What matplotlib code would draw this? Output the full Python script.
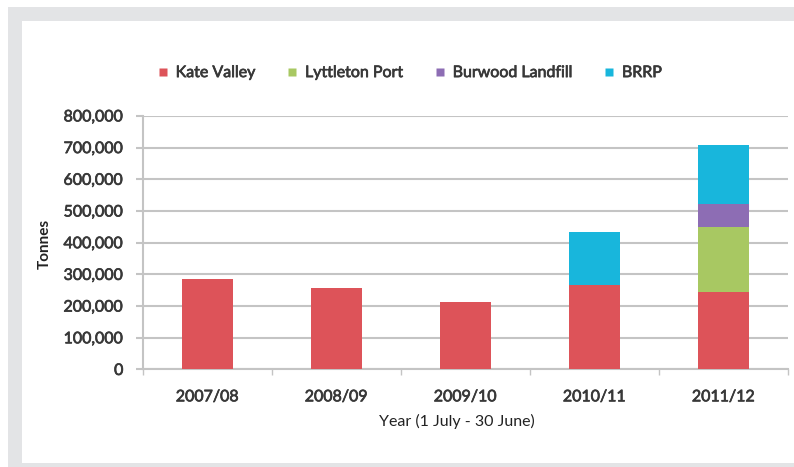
import matplotlib
matplotlib.use('Agg')
import matplotlib.pyplot as plt
import matplotlib.patheffects as pe
from matplotlib.lines import Line2D
from matplotlib.patches import Rectangle
from matplotlib.ticker import FuncFormatter, FixedLocator
import numpy as np

# Tonnes sent to each destination per year
years = ['2007/08', '2008/09', '2009/10', '2010/11', '2011/12']
kate_valley = [287000, 258000, 213000, 267000, 244000]
lyttleton_port = [0, 0, 0, 0, 205000]
burwood_landfill = [0, 0, 0, 0, 73000]
brrp = [0, 0, 0, 168000, 186000]

series = [
    ('Kate Valley', kate_valley, '#dd5359'),
    ('Lyttleton Port', lyttleton_port, '#a8c862'),
    ('Burwood Landfill', burwood_landfill, '#8d6db4'),
    ('BRRP', brrp, '#18b6dc'),
]

plt.rcParams['font.family'] = ['Lato', 'DejaVu Sans']
text_col = '#383838'
grid_col = '#c4c4c4'
# slightly heavier strokes for the label text
heavy = [pe.withStroke(linewidth=0.5, foreground=text_col)]

fig = plt.figure(figsize=(7.94, 4.67), dpi=100)

# grey frame around the panel
fig.patches.append(Rectangle((8 / 794, 0), 1, 1 - 7 / 467, transform=fig.transFigure,
                             facecolor='#e3e4e6', edgecolor='none', zorder=-2))
fig.patches.append(Rectangle((22 / 794, 4 / 467), 1, 1 - 25 / 467, transform=fig.transFigure,
                             facecolor='white', edgecolor='none', zorder=-1))

ax = fig.add_axes([0.180, 0.2088, 0.8124, 0.5430])
ax.set_facecolor('none')

x = np.arange(len(years))
bottom = np.zeros(len(years))
handles = []
for name, vals, col in series:
    vals = np.array(vals, dtype=float)
    ax.bar(x, vals, width=0.39, bottom=bottom, color=col, zorder=3)
    bottom += vals
    handles.append(Line2D([], [], marker='s', linestyle='none', markersize=6,
                          markerfacecolor=col, markeredgecolor='none', label=name))

ax.set_xlim(-0.5, len(years) - 0.5)
ax.set_ylim(0, 800000)
ax.set_yticks(np.arange(0, 800001, 100000))
ax.yaxis.set_major_formatter(FuncFormatter(lambda v, p: f'{int(v):,}'))
ax.grid(axis='y', color=grid_col, linewidth=1.5, zorder=0)

ax.set_xticks(x)
ax.set_xticklabels(years)
ax.xaxis.set_minor_locator(FixedLocator(np.arange(-0.5, len(years), 1.0)))
ax.tick_params(axis='x', which='major', length=0, pad=15)
ax.tick_params(axis='x', which='minor', length=4, color=grid_col, width=1)
ax.tick_params(axis='y', length=5, color=grid_col, width=1.5, pad=9)
for lab in ax.get_xticklabels() + ax.get_yticklabels():
    lab.set_fontsize(11.5)
    lab.set_color(text_col)
    lab.set_path_effects(heavy)

for s in ['top', 'right']:
    ax.spines[s].set_visible(False)
for s in ['left', 'bottom']:
    ax.spines[s].set_color(grid_col)
    ax.spines[s].set_linewidth(1.5)

fig.text(45 / 794, 1 - 244 / 467, 'Tonnes', rotation=90, ha='center', va='center',
         fontsize=11, fontweight='bold', color='#222222')
fig.text(457 / 794, 1 - 421 / 467, 'Year (1 July - 30 June)', ha='center', va='center',
         fontsize=11.5, color='#222222')

leg = fig.legend(handles=handles, loc='center', bbox_to_anchor=(410 / 794, 1 - 73 / 467),
                 ncol=4, frameon=False, handlelength=0.6, handletextpad=0.5,
                 columnspacing=2.0, prop={'size': 11.5}, labelcolor=text_col)
for t in leg.get_texts():
    t.set_path_effects(heavy)

fig.savefig('out.png', dpi=100)
